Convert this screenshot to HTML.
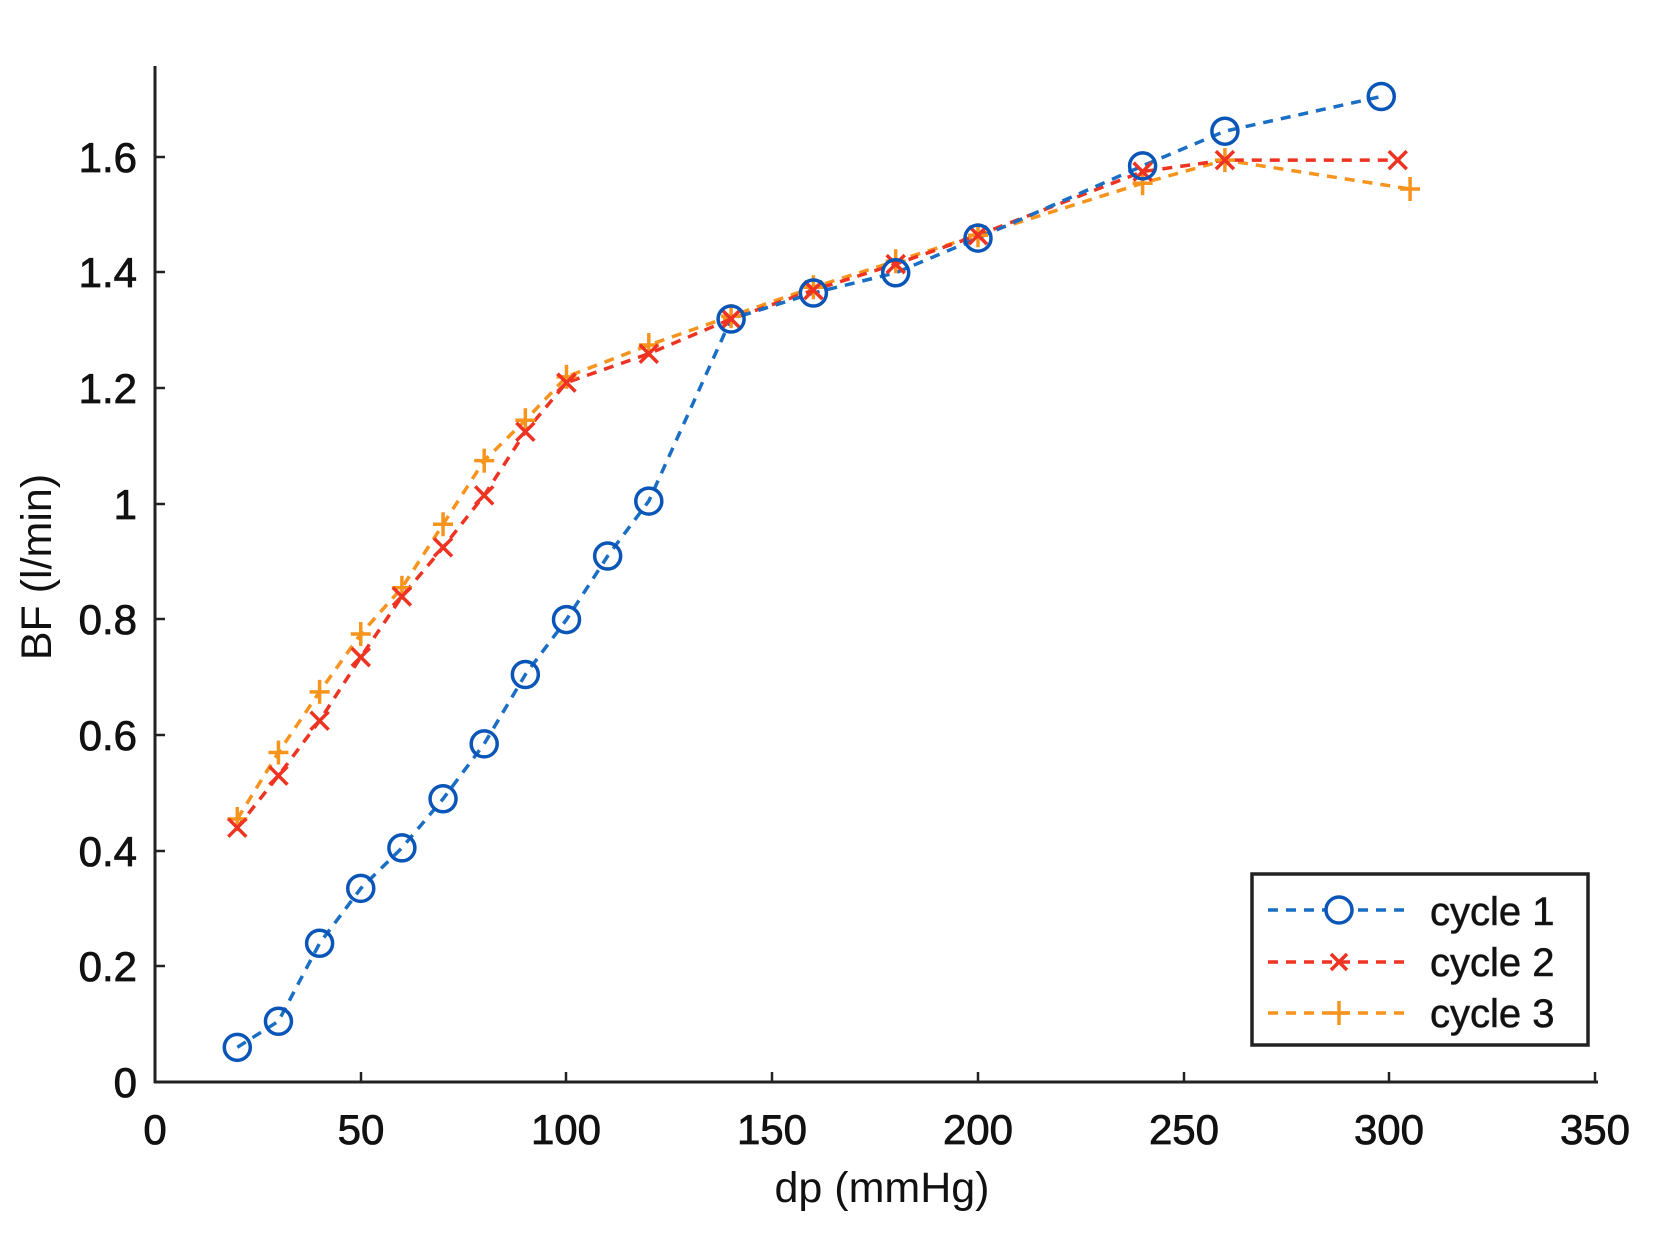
<!DOCTYPE html>
<html><head><meta charset="utf-8"><style>
html,body{margin:0;padding:0;background:#fff;}
svg{display:block;}
text{font-family:"Liberation Sans",Arial,sans-serif;fill:#111;}
</style></head><body>
<svg id="s" width="1664" height="1241" viewBox="0 0 1664 1241" xmlns="http://www.w3.org/2000/svg">
<rect width="1664" height="1241" fill="#fff"/>
<g stroke="#222" stroke-width="3" fill="none">
<line x1="155" y1="66" x2="155" y2="1083"/>
<line x1="154" y1="1082" x2="1598" y2="1082"/>
</g>
<g stroke="#222" stroke-width="2.5">
<line x1="155" y1="157" x2="165" y2="157"/><line x1="155" y1="272" x2="165" y2="272"/>
<line x1="155" y1="388" x2="165" y2="388"/><line x1="155" y1="504" x2="165" y2="504"/>
<line x1="155" y1="619" x2="165" y2="619"/><line x1="155" y1="735" x2="165" y2="735"/>
<line x1="155" y1="851" x2="165" y2="851"/><line x1="155" y1="966" x2="165" y2="966"/>
<line x1="361" y1="1082" x2="361" y2="1072"/><line x1="566" y1="1082" x2="566" y2="1072"/>
<line x1="772" y1="1082" x2="772" y2="1072"/><line x1="978" y1="1082" x2="978" y2="1072"/>
<line x1="1184" y1="1082" x2="1184" y2="1072"/><line x1="1389" y1="1082" x2="1389" y2="1072"/>
<line x1="1595" y1="1082" x2="1595" y2="1072"/>
</g>
<g font-size="42" text-anchor="end" stroke="#111" stroke-width="0.8">
<text x="137" y="1097">0</text><text x="137" y="981">0.2</text><text x="137" y="866">0.4</text>
<text x="137" y="750">0.6</text><text x="137" y="634">0.8</text><text x="137" y="519">1</text>
<text x="137" y="403">1.2</text><text x="137" y="287">1.4</text><text x="137" y="172">1.6</text>
</g>
<g font-size="42" text-anchor="middle" stroke="#111" stroke-width="0.8">
<text x="155" y="1144">0</text><text x="361" y="1144">50</text><text x="566" y="1144">100</text>
<text x="772" y="1144">150</text><text x="978" y="1144">200</text><text x="1184" y="1144">250</text>
<text x="1389" y="1144">300</text><text x="1595" y="1144">350</text>
</g>
<text x="882" y="1202" font-size="43" text-anchor="middle" fill="#222">dp (mmHg)</text>
<text transform="translate(51,567) rotate(-90)" font-size="43" text-anchor="middle" fill="#222">BF (l/min)</text>
<g id="plot"></g>
<rect x="1252" y="874" width="336" height="171" fill="#fff" stroke="#222" stroke-width="3.5"/>
<g stroke-width="3.5" stroke-dasharray="10 8" fill="none">
<line x1="1268" y1="910" x2="1410" y2="910" stroke="#1a6fc4"/>
<line x1="1268" y1="962" x2="1410" y2="962" stroke="#ee3322"/>
<line x1="1268" y1="1013" x2="1410" y2="1013" stroke="#f7941d"/>
</g>
<circle cx="1339" cy="910" r="13" fill="#fff" stroke="#0a55b8" stroke-width="3.5"/>
<g stroke="#ee3322" stroke-width="3.5"><line x1="1331" y1="954" x2="1347" y2="970"/><line x1="1331" y1="970" x2="1347" y2="954"/></g>
<g stroke="#f7941d" stroke-width="3.5"><line x1="1329" y1="1013" x2="1349" y2="1013"/><line x1="1339" y1="1001" x2="1339" y2="1025"/></g>
<g font-size="40" fill="#222" stroke="#222" stroke-width="0.6"><text x="1430" y="925">cycle 1</text><text x="1430" y="976">cycle 2</text><text x="1430" y="1027">cycle 3</text></g>
</svg>
<script>
var X=function(v){return 155+4.115*v},Y=function(v){return 1082-578*v};
var c1=[[20,.06],[30,.105],[40,.24],[50,.335],[60,.405],[70,.49],[80,.585],[90,.705],[100,.8],[110,.91],[120,1.005],[140,1.32],[160,1.365],[180,1.4],[200,1.46],[240,1.585],[260,1.645],[298,1.705]];
var c2=[[20,.44],[30,.53],[40,.625],[50,.735],[60,.84],[70,.925],[80,1.015],[90,1.125],[100,1.21],[120,1.26],[140,1.32],[160,1.37],[180,1.415],[200,1.465],[240,1.575],[260,1.595],[302,1.595]];
var c3=[[20,.455],[30,.57],[40,.675],[50,.775],[60,.855],[70,.965],[80,1.075],[90,1.145],[100,1.22],[120,1.275],[140,1.325],[160,1.375],[180,1.42],[200,1.465],[240,1.555],[260,1.595],[305,1.545]];
var h='';
function line(d,col){h+='<polyline fill="none" stroke="'+col+'" stroke-width="3.5" stroke-dasharray="10 8" points="'+d.map(function(p){return X(p[0]).toFixed(1)+','+Y(p[1]).toFixed(1)}).join(' ')+'"/>';}
line(c3,'#f7941d');line(c2,'#ee3322');line(c1,'#1a6fc4');
c3.forEach(function(p){var x=X(p[0]),y=Y(p[1]);h+='<g stroke="#f7941d" stroke-width="3.5"><line x1="'+(x-10)+'" y1="'+y+'" x2="'+(x+10)+'" y2="'+y+'"/><line x1="'+x+'" y1="'+(y-12)+'" x2="'+x+'" y2="'+(y+12)+'"/></g>';});
c2.forEach(function(p){var x=X(p[0]),y=Y(p[1]);h+='<g stroke="#ee3322" stroke-width="3.5"><line x1="'+(x-9)+'" y1="'+(y-9)+'" x2="'+(x+9)+'" y2="'+(y+9)+'"/><line x1="'+(x-9)+'" y1="'+(y+9)+'" x2="'+(x+9)+'" y2="'+(y-9)+'"/></g>';});
c1.forEach(function(p){h+='<circle cx="'+X(p[0])+'" cy="'+Y(p[1])+'" r="13" fill="none" stroke="#0a55b8" stroke-width="3.5"/>';});
document.getElementById('plot').innerHTML=h;
</script>
</body></html>
